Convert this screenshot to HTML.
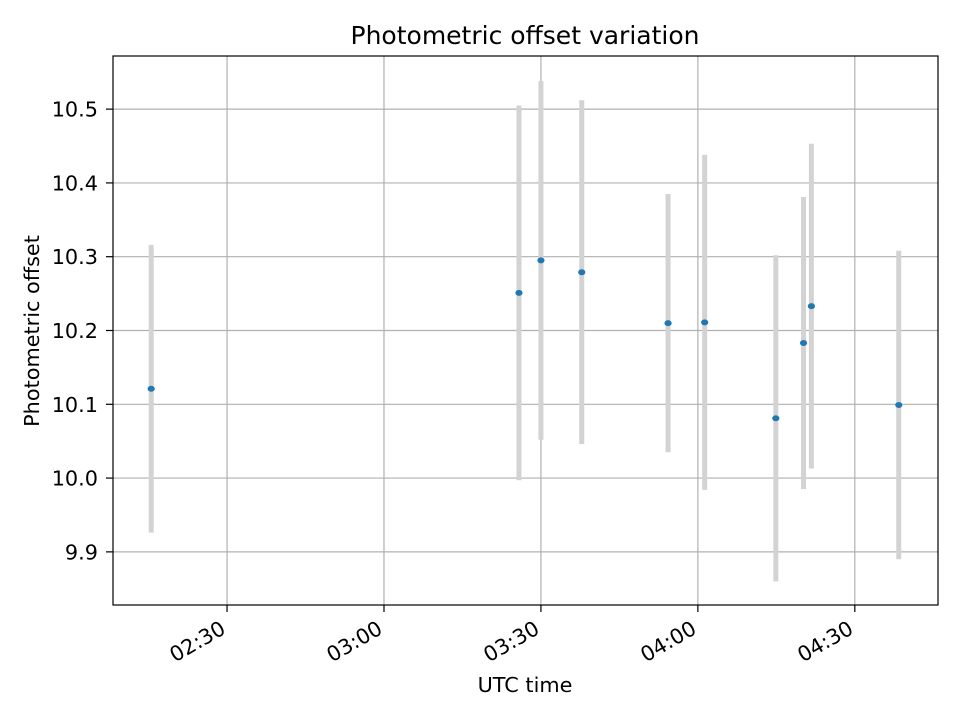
<!DOCTYPE html>
<html><head><meta charset="utf-8"><style>
body{margin:0;background:#fff}
svg text{font-family:"DejaVu Sans","Liberation Sans",sans-serif;fill:#000}
</style></head><body>
<svg id="chart" width="960" height="720" viewBox="0 0 960 720" xmlns="http://www.w3.org/2000/svg">
<rect width="960" height="720" fill="#fff"/>
<text x="525" y="44" font-size="25" text-anchor="middle">Photometric offset variation</text>
<g id="grid"></g><g id="marks"></g><g id="axes"></g>
<text x="525" y="692" font-size="20.8" text-anchor="middle">UTC time</text>
<text transform="translate(39,331) rotate(-90)" font-size="20.8" text-anchor="middle">Photometric offset</text>
</svg>
<script>
// times in minutes since 00:00 UTC
const times = [135.5, 205.8, 210.0, 217.8, 234.3, 241.3, 254.9, 260.2, 261.7, 278.4];
const offsets = [10.121, 10.251, 10.295, 10.279, 10.210, 10.211, 10.081, 10.183, 10.233, 10.099];
const errors = [0.195, 0.254, 0.243, 0.233, 0.175, 0.227, 0.221, 0.198, 0.220, 0.209];
const xTicks = [150, 180, 210, 240, 270];
const xTickLabels = ["02:30", "03:00", "03:30", "04:00", "04:30"];
const yTicks = [9.9, 10.0, 10.1, 10.2, 10.3, 10.4, 10.5];
const yTickLabels = ["9.9", "10.0", "10.1", "10.2", "10.3", "10.4", "10.5"];

const L=113,R=938,T=56,B=605;
const xMin=128.2,xMax=285.9,yMin=9.828,yMax=10.572;
const xs=v=>L+(v-xMin)/(xMax-xMin)*(R-L);
const ys=v=>B-(v-yMin)/(yMax-yMin)*(B-T);
const NS="http://www.w3.org/2000/svg";
function mk(tag,attrs,parent){const e=document.createElementNS(NS,tag);for(const k in attrs)e.setAttribute(k,attrs[k]);parent.appendChild(e);return e;}
const grid=document.getElementById('grid'),marks=document.getElementById('marks'),axes=document.getElementById('axes');

xTicks.forEach((t,i)=>{
  const x=xs(t);
  const g=mk('line',{x1:x,x2:x,y1:T,y2:B,stroke:'#b0b0b0','stroke-width':1.2},grid);
  
  
  const tk=mk('line',{x1:x,x2:x,y1:B,y2:B+7,stroke:'#000','stroke-width':1.2},axes);
  
  
  const tx=mk('text',{transform:`translate(${x-8},${B+14}) rotate(-30)`,'font-size':20.8,'text-anchor':'end',dy:'0.76em'},axes);
  tx.textContent=xTickLabels[i];
  
  
});
yTicks.forEach((t,i)=>{
  const y=ys(t);
  const g=mk('line',{x1:L,x2:R,y1:y,y2:y,stroke:'#b0b0b0','stroke-width':1.2},grid);
  
  
  const tk=mk('line',{x1:L-7,x2:L,y1:y,y2:y,stroke:'#000','stroke-width':1.2},axes);
  
  
  const tx=mk('text',{x:L-15,y:y+7.5,'font-size':20.8,'text-anchor':'end'},axes);
  tx.textContent=yTickLabels[i];
  
  
});
times.forEach((t,i)=>{
  const x=xs(t);
  const eb=mk('line',{x1:x,x2:x,y1:ys(offsets[i]+errors[i]),y2:ys(offsets[i]-errors[i]),stroke:'#d3d3d3','stroke-width':5},marks);
  
  
});
times.forEach((t,i)=>{
  const p=mk('ellipse',{cx:xs(t),cy:ys(offsets[i]),rx:3.6,ry:3,fill:'#1f77b4'},marks);
  
  
});
const frame=mk('rect',{x:L,y:T,width:R-L,height:B-T,fill:'none',stroke:'#000','stroke-width':1.2},axes);


</script>
</body></html>
